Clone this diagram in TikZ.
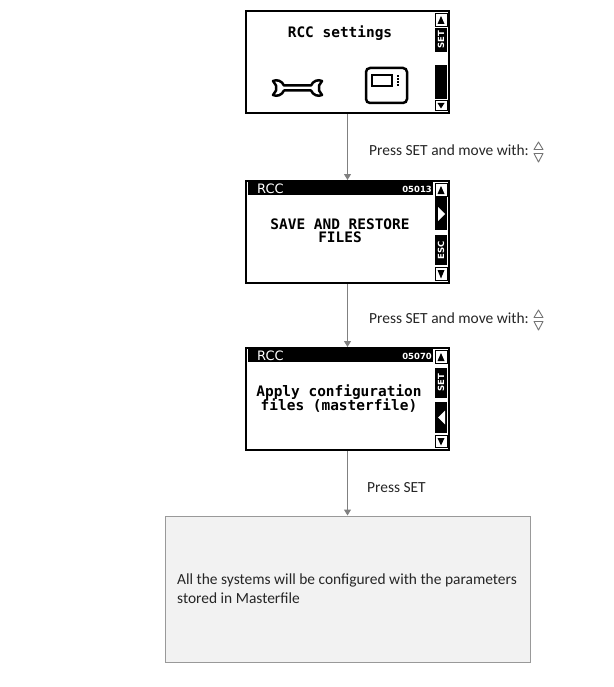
\documentclass[tikz,border=0pt]{standalone}
\usepackage{fontspec}
\setmainfont{Carlito}
\newfontfamily\lcd{DejaVu Sans Mono}
\newfontfamily\hdr{DejaVu Sans}
\usetikzlibrary{arrows.meta}
\begin{document}
\begin{tikzpicture}[x=1bp,y=-1bp,
  screen/.style={draw=black,line width=2bp,fill=white,minimum width=203bp,minimum height=102bp,inner sep=0pt},
  arr/.style={draw=black!50,line width=1bp,-{Triangle[width=7bp,length=6bp,fill=black!50]}},
  lbl/.style={inner sep=0pt,anchor=base west,font=\fontsize{15.5}{18}\selectfont,text=black!85},
  lcdtext/.style={inner sep=0pt,anchor=base,font=\lcd\bfseries\fontsize{14.5}{12}\selectfont},
  hbar/.style={fill=black},
  cellbox/.style={draw=black,line width=0.8bp,fill=white},
  celltext/.style={rotate=90,inner sep=0pt,text=white,font=\hdr\bfseries\fontsize{8.5}{9}\selectfont},
  updown/.style={draw=black!55,line width=0.9bp,line join=round},
  finalbox/.style={draw=black!40,line width=1bp,fill=black!5,minimum width=365bp,minimum height=146bp,inner sep=0pt},
  ftext/.style={inner sep=0pt,anchor=base west,text=black!85,font=\fontsize{15.5}{19}\selectfont}
]
\useasboundingbox[fill=white] (0,0) rectangle (614,687);

% screens
\node[screen] (s1) at (347.5,62) {};
\node[screen] (s2) at (347.5,232) {};
\node[screen] (s3) at (347.5,399) {};
\node[finalbox] (fb) at (347.5,589) {};

% sidebars common cells
\foreach \yo/\aa/\ab/\ba/\bb/\dn in {11/17/41/54/88/89, 181/16/49/54/84/86, 348/20/50/54/85/87}{
  \draw[cellbox] (435,{\yo+2.5}) rectangle (447,{\yo+15});
  \fill (437.5,{\yo+13}) -- (444.5,{\yo+13}) -- (441,{\yo+5}) -- cycle;
  \fill[black] (435,{\yo+\aa}) rectangle (447,{\yo+\ab});
  \fill[black] (435,{\yo+\ba}) rectangle (447,{\yo+\bb});
  \draw[cellbox] (435,{\yo+\dn}) rectangle (447,{\yo+99.5});
  \fill (437.5,{\yo+\dn+3}) -- (444.5,{\yo+\dn+3}) -- (441,{\yo+97.5}) -- cycle;
}

% screen 1 content
\node[celltext] (set1) at (441,40) {SET};
\node[lcdtext] (t1) at (340,38) {RCC settings};
\draw[line width=2.5bp,line join=round,fill=white] (284,85.5) -- (311,85.5) .. controls (313,81) and (318,79) .. (322,81) -- (319,85.5) -- (319,90.5) -- (322,95) .. controls (318,97) and (313,95) .. (311,90.5) -- (284,90.5) .. controls (282,95) and (277,97) .. (273,95) -- (276,90.5) -- (276,85.5) -- (273,81) .. controls (277,79) and (282,81) .. (284,85.5) -- cycle;
\draw[line width=2.5bp,rounded corners=4bp] (366,68) rectangle (407,103);
\draw[line width=2bp] (372,75.5) rectangle (391.5,86.5);
\foreach \d in {75.5,78.5,81.5,84.5} \fill (396.5,\d) rectangle (398.5,{\d+1.6});

% screen 2 content
\fill[hbar] (248,182) rectangle (433,195);
\node[inner sep=0pt,anchor=west,text=white,font=\hdr\fontsize{13}{13}\selectfont] (h2) at (257,188.5) {RCC};
\node[inner sep=0pt,anchor=east,text=white,font=\hdr\bfseries\fontsize{8.5}{9}\selectfont] (n2) at (432,189) {05013};
\fill[white] (438,{181+26}) -- (438,{181+40}) -- (445,{181+33}) -- cycle;
\node[celltext] (esc2) at (441,{181+69}) {ESC};
\node[lcdtext] (t2a) at (340,229) {SAVE AND RESTORE};
\node[lcdtext] (t2b) at (340,242) {FILES};

% screen 3 content
\fill[hbar] (248,349) rectangle (433,362);
\node[inner sep=0pt,anchor=west,text=white,font=\hdr\fontsize{13}{13}\selectfont] (h3) at (257,355.5) {RCC};
\node[inner sep=0pt,anchor=east,text=white,font=\hdr\bfseries\fontsize{8.5}{9}\selectfont] (n3) at (432,356) {05070};
\node[celltext] (set3) at (441,{348+35}) {SET};
\fill[white] (445,{348+62.5}) -- (445,{348+76.5}) -- (438,{348+69.5}) -- cycle;
\node[lcdtext] (t3a) at (339,396) {Apply configuration};
\node[lcdtext] (t3b) at (339,410) {files (masterfile)};

% connectors
\draw[arr] (s1.south) -- (s2.north);
\draw[arr] (s2.south) -- (s3.north);
\draw[arr] (s3.south) -- (fb.north);

% labels
\node[lbl] (l1) at (369,155) {Press SET and move with:};
\draw[updown] (534,149.5) -- (543,149.5) -- (538.5,142) -- cycle;
\draw[updown] (534,153.5) -- (543,153.5) -- (538.5,162) -- cycle;
\node[lbl] (l2) at (369,323) {Press SET and move with:};
\draw[updown] (534,317.5) -- (543,317.5) -- (538.5,310) -- cycle;
\draw[updown] (534,321.5) -- (543,321.5) -- (538.5,330) -- cycle;
\node[lbl] (l3) at (367,492) {Press SET};

% final text
\node[ftext] (ft1) at (177,584) {All the systems will be configured with the parameters};
\node[ftext] (ft2) at (177,603) {stored in Masterfile};
\end{tikzpicture}
\end{document}
